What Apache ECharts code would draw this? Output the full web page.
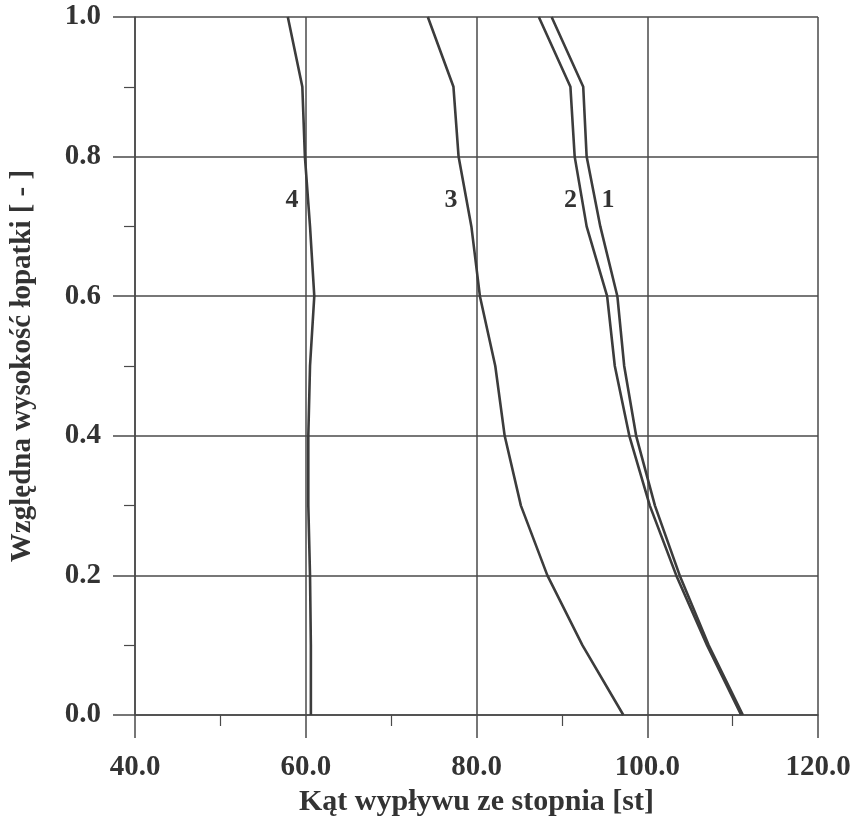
<!DOCTYPE html>
<html>
<head>
<meta charset="utf-8">
<script src="https://cdn.jsdelivr.net/npm/echarts@6/dist/echarts.min.js"></script>
<style>
html,body{margin:0;padding:0;background:#fff;}
#chart{width:862px;height:822px;}
</style>
</head>
<body>
<div id="chart"></div>
<script>
const heights = [0.0, 0.1, 0.2, 0.3, 0.4, 0.5, 0.6, 0.7, 0.8, 0.9, 1.0];
const angle1 = [111.2, 107.2, 103.8, 100.9, 98.7, 97.3, 96.5, 94.5, 92.9, 92.5, 88.8];
const angle2 = [111.0, 107.0, 103.4, 100.3, 97.9, 96.2, 95.3, 92.9, 91.5, 91.0, 87.3];
const angle3 = [97.2, 92.4, 88.3, 85.2, 83.3, 82.2, 80.4, 79.4, 77.9, 77.3, 74.3];
const angle4 = [60.6, 60.6, 60.5, 60.3, 60.3, 60.5, 61.0, 60.5, 59.9, 59.6, 57.9];
const curveNames = ['1', '2', '3', '4'];
const labelX = [95.4, 91.0, 77.0, 58.4];
const labelY = [0.737, 0.737, 0.737, 0.737];
const xTitle = 'Kąt wypływu ze stopnia [st]';
const yTitle = 'Względna wysokość łopatki [ - ]';

const FONT = '"Liberation Serif", "Times New Roman", serif';
const INK = '#333333';
const GRID = '#4a4a4a';

const curves = [angle1, angle2, angle3, angle4];
const lineSeries = curves.map((arr, i) => ({
  type: 'line',
  name: curveNames[i],
  data: arr.map((v, k) => [v, heights[k]]),
  showSymbol: false,
  symbol: 'none',
  smooth: false,
  lineStyle: { color: '#3c3c3c', width: 2.6 },
  markPoint: {
    symbol: 'circle',
    symbolSize: 1,
    itemStyle: { color: 'rgba(0,0,0,0)' },
    label: {
      show: true,
      position: 'inside',
      formatter: curveNames[i],
      fontFamily: FONT,
      fontWeight: 'bold',
      fontSize: 26,
      color: INK
    },
    data: [{ coord: [labelX[i], labelY[i]] }]
  },
  z: 3
}));

const chart = echarts.init(document.getElementById('chart'), null, { renderer: 'canvas' });
chart.setOption({
  animation: false,
  backgroundColor: '#ffffff',
  grid: { left: 134, right: 44, top: 17, bottom: 107, containLabel: false },
  xAxis: {
    type: 'value',
    min: 40, max: 120, interval: 20,
    name: xTitle,
    nameLocation: 'middle',
    nameGap: 70,
    nameTextStyle: { fontFamily: FONT, fontWeight: 'bold', fontSize: 30, color: INK },
    axisLine: { show: true, onZero: false, lineStyle: { color: GRID, width: 1.5 } },
    axisTick: { show: true, inside: false, length: 23, lineStyle: { color: GRID, width: 1.5 } },
    minorTick: { show: true, splitNumber: 2, length: 11, lineStyle: { color: GRID, width: 1.2 } },
    splitLine: { show: true, lineStyle: { color: GRID, width: 1.5 } },
    axisLabel: {
      margin: 38,
      fontFamily: FONT, fontWeight: 'bold', fontSize: 29, color: INK,
      formatter: v => v.toFixed(1)
    }
  },
  yAxis: {
    type: 'value',
    min: 0, max: 1, interval: 0.2,
    name: yTitle,
    nameLocation: 'middle',
    nameGap: 98,
    nameTextStyle: { fontFamily: FONT, fontWeight: 'bold', fontSize: 29, color: INK },
    axisLine: { show: true, onZero: false, lineStyle: { color: GRID, width: 1.5 } },
    axisTick: { show: true, inside: false, length: 22, lineStyle: { color: GRID, width: 1.5 } },
    minorTick: { show: true, splitNumber: 2, length: 11, lineStyle: { color: GRID, width: 1.2 } },
    splitLine: { show: true, lineStyle: { color: GRID, width: 1.5 } },
    axisLabel: {
      margin: 34,
      fontFamily: FONT, fontWeight: 'bold', fontSize: 29, color: INK,
      formatter: v => v.toFixed(1)
    }
  },
  series: lineSeries
});
</script>
</body>
</html>
